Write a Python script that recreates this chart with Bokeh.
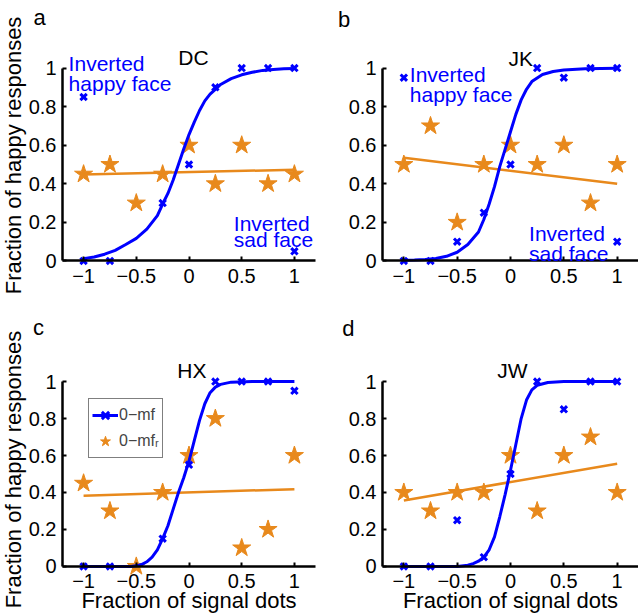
import math
from bokeh.plotting import figure
from bokeh.models import Range1d, Label, Legend, LegendItem, FixedTicker, CustomJSTickFormatter
from bokeh.layouts import row, column
from bokeh.embed import file_html
from bokeh.resources import INLINE

NAN = float("nan")

# ---------------- data ----------------
levels = [-1, -0.75, -0.5, -0.25, 0, 0.25, 0.5, 0.75, 1]
x_ticks = [-1, -0.5, 0, 0.5, 1]
x_tick_labels = ["\u22121", "\u22120.5", "0", "0.5", "1"]
y_ticks = [0, 0.2, 0.4, 0.6, 0.8, 1]
y_tick_labels = ["0", "0.2", "0.4", "0.6", "0.8", "1"]

subjects = ["DC", "JK", "HX", "JW"]
panel_letters = ["a", "b", "c", "d"]

# 0-mf (blue crosses)
dc_mf = [0, 0, NAN, 0.3, 0.5, 0.9, 1, 1, 1]
jk_mf = [0, 0, 0.1, 0.25, 0.5, 1, 0.95, 1, 1]
hx_mf = [0, 0, NAN, 0.15, 0.55, 1, 1, 1, 0.95]
jw_mf = [0, 0, 0.25, 0.05, 0.5, 1, 0.85, 1, 1]

# 0-mf_r (orange stars)
dc_mfr = [0.45, 0.5, 0.3, 0.45, 0.6, 0.4, 0.6, 0.4, 0.45]
jk_mfr = [0.5, 0.7, 0.2, 0.5, 0.6, 0.5, 0.6, 0.3, 0.5]
hx_mfr = [0.45, 0.3, 0, 0.4, 0.6, 0.8, 0.1, 0.2, 0.6]
jw_mfr = [0.4, 0.3, 0.4, 0.4, 0.6, 0.3, 0.6, 0.7, 0.4]

# inverted-face points
dc_inv_x = [-1, 1]
dc_inv_y = [0.85, 0.05]
jk_inv_x = [-1, 1]
jk_inv_y = [0.95, 0.1]

# psychometric fit curves
dc_fit_x = [-1, -0.9, -0.8, -0.7, -0.6, -0.5, -0.4, -0.3, -0.25, -0.2, -0.15, -0.1, -0.05, 0,
            0.05, 0.1, 0.15, 0.2, 0.25, 0.3, 0.4, 0.5, 0.6, 0.7, 0.8, 0.9, 1]
dc_fit_y = [0.012, 0.02, 0.035, 0.055, 0.085, 0.117, 0.165, 0.235, 0.295, 0.35, 0.42, 0.5, 0.58, 0.655,
            0.72, 0.78, 0.83, 0.865, 0.89, 0.915, 0.945, 0.965, 0.978, 0.988, 0.993, 0.996, 0.998]
jk_fit_x = [-1, -0.9, -0.8, -0.7, -0.6, -0.5, -0.4, -0.3, -0.25, -0.2, -0.15, -0.1, -0.05, 0,
            0.05, 0.1, 0.15, 0.2, 0.3, 0.4, 0.5, 0.7, 1]
jk_fit_y = [0.003, 0.005, 0.008, 0.013, 0.024, 0.045, 0.085, 0.15, 0.215, 0.295, 0.385, 0.49, 0.58, 0.67,
            0.76, 0.835, 0.89, 0.93, 0.967, 0.982, 0.99, 0.997, 0.999]
hx_fit_x = [-1, -0.75, -0.55, -0.5, -0.45, -0.4, -0.35, -0.3, -0.25, -0.2, -0.15, -0.1, -0.05, 0,
            0.05, 0.1, 0.15, 0.2, 0.25, 0.3, 0.4, 0.6, 1]
hx_fit_y = [0, 0, 0, 0.003, 0.01, 0.025, 0.05, 0.09, 0.15, 0.22, 0.31, 0.4, 0.48, 0.57,
            0.68, 0.79, 0.88, 0.94, 0.97, 0.985, 0.997, 1, 1]
jw_fit_x = [-1, -0.5, -0.4, -0.35, -0.3, -0.25, -0.2, -0.15, -0.1, -0.05, 0, 0.05, 0.1, 0.15,
            0.2, 0.25, 0.35, 0.5, 1]
jw_fit_y = [0, 0, 0.006, 0.015, 0.028, 0.05, 0.09, 0.16, 0.27, 0.39, 0.52, 0.66, 0.8, 0.9,
            0.955, 0.98, 0.995, 1, 1]

# linear fits of 0-mf_r (end points)
line_x = [-1, 1]
dc_line_y = [0.448, 0.473]
jk_line_y = [0.535, 0.40]
hx_line_y = [0.382, 0.418]
jw_line_y = [0.357, 0.556]

legend_labels = ["0\u2212mf", "0\u2212mf\u1d63"]
x_title = "Fraction of signal dots"
y_title = "Fraction of happy responses"

# ---------------- style ----------------
BLUE = "#0000ff"
ORANGE = "#e8891c"
FONT = "Liberation Sans"
XLO, XHI = -1.2, 1.2       # axis extent
YLO, YHI = -0.06, 1.06     # reference frame for pixel layout


def tick_fmt(tick_values, tick_texts):
    return CustomJSTickFormatter(
        args=dict(tv=tick_values, tt=tick_texts),
        code="""
        for (let i = 0; i < tv.length; i++) {
            if (Math.abs(tv[i] - tick) < 1e-6) return tt[i];
        }
        return "";
        """,
    )


def make_panel(width, height, ax_left, ax_right, fr_top, fr_h,
               mf, mfr, fit_x, fit_y, line_y, inv_x=None, inv_y=None, xlabel=False):
    # pixel layout -> ranges covering the whole canvas (nothing gets clipped)
    ux = (width - ax_left - ax_right) / (XHI - XLO)
    uy = fr_h / (YHI - YLO)
    xr = Range1d(XLO - ax_left / ux, XHI + ax_right / ux)
    yr = Range1d(YHI - (height - fr_top) / uy, YHI + fr_top / uy)
    p = figure(width=width, height=height, x_range=xr, y_range=yr,
               output_backend="svg", toolbar_location=None, title=None,
               min_border=0, min_border_left=0, min_border_right=0,
               min_border_top=0, min_border_bottom=0)
    p.outline_line_color = None
    p.xgrid.visible = False
    p.ygrid.visible = False
    p.background_fill_color = "white"
    p.border_fill_color = "white"

    for ax in (p.xaxis[0], p.yaxis[0]):
        ax.axis_line_width = 2.5
        ax.axis_line_color = "black"
        ax.major_tick_in = 4
        ax.major_tick_out = 0
        ax.major_tick_line_width = 2
        ax.major_tick_line_color = "black"
        ax.minor_tick_line_color = None
        ax.major_label_text_font = FONT
        ax.major_label_text_font_size = "20px"
        ax.major_label_text_color = "black"

    xa = p.xaxis[0]
    xa.ticker = FixedTicker(ticks=x_ticks)
    xa.formatter = tick_fmt(x_ticks, x_tick_labels)
    xa.fixed_location = 0
    xa.bounds = (XLO, XHI)
    xa.major_label_standoff = 8
    if xlabel:
        xa.axis_label = x_title
        xa.axis_label_text_font = FONT
        xa.axis_label_text_font_size = "22px"
        xa.axis_label_text_font_style = "normal"
        xa.axis_label_text_color = "black"
        xa.axis_label_standoff = -4

    ya = p.yaxis[0]
    ya.ticker = FixedTicker(ticks=y_ticks)
    ya.formatter = tick_fmt(y_ticks, y_tick_labels)
    ya.fixed_location = XLO
    ya.bounds = (0, 1)
    ya.major_label_standoff = 6

    stars = p.scatter(levels, mfr, marker="star", size=19, fill_color=ORANGE,
                      line_color=ORANGE, line_width=1)
    p.line(line_x, line_y, line_color=ORANGE, line_width=2.5)
    crosses = p.scatter(levels, mf, marker="x", size=9, line_color=BLUE, line_width=3)
    if inv_x is not None:
        p.scatter(inv_x, inv_y, marker="x", size=9, line_color=BLUE, line_width=3)
    curve = p.line(fit_x, fit_y, line_color=BLUE, line_width=3)
    return p, curve, crosses, stars


def add_text(p, x, y, text, size="21px", color="black", align="left", angle=0.0,
             baseline="alphabetic"):
    p.add_layout(Label(x=x, y=y, text=text, text_font=FONT, text_font_size=size,
                       text_color=color, text_align=align, text_baseline=baseline,
                       angle=angle))


# panel a
pa, _, _, _ = make_panel(319, 300, 62, 4, 56, 216, dc_mf, dc_mfr, dc_fit_x, dc_fit_y,
                         dc_line_y, dc_inv_x, dc_inv_y)
add_text(pa, -1.474, 1.262, panel_letters[0], size="22px")
add_text(pa, 0.043, 1.057, subjects[0], align="center")
add_text(pa, -1.142, 1.026, "Inverted", color=BLUE)
add_text(pa, -1.142, 0.921, "happy face", color=BLUE)
add_text(pa, 0.425, 0.195, "Inverted", color=BLUE)
add_text(pa, 0.425, 0.109, "sad face", color=BLUE)
add_text(pa, -1.786, 0.547, y_title, size="22px", align="center", angle=math.pi / 2,
         baseline="top")

# panel b
pb, _, _, _ = make_panel(319, 300, 63, 0, 56, 216, jk_mf, jk_mfr, jk_fit_x, jk_fit_y,
                         jk_line_y, jk_inv_x, jk_inv_y)
add_text(pb, -1.618, 1.25, panel_letters[1], size="22px")
add_text(pb, 0.096, 1.05, subjects[1], align="center")
add_text(pb, -0.944, 0.968, "Inverted", color=BLUE)
add_text(pb, -0.944, 0.861, "happy face", color=BLUE)
add_text(pb, 0.174, 0.143, "Inverted", color=BLUE)
add_text(pb, 0.174, 0.04, "sad face", color=BLUE)

# panel c
pc, curve_c, crosses_c, stars_c = make_panel(319, 313, 62, 4, 70, 207, hx_mf, hx_mfr,
                                             hx_fit_x, hx_fit_y, hx_line_y, xlabel=True)
add_text(pc, -1.48, 1.292, panel_letters[2], size="22px")
add_text(pc, 0.028, 1.06, subjects[2], align="center")
add_text(pc, -1.786, 0.524, y_title, size="22px", align="center", angle=math.pi / 2,
         baseline="top")
legend = Legend(items=[LegendItem(label=legend_labels[0], renderers=[curve_c, crosses_c]),
                       LegendItem(label=legend_labels[1], renderers=[stars_c])],
                location=(88, 155), orientation="vertical",
                label_text_font=FONT, label_text_font_size="16px",
                label_standoff=1, glyph_width=26, glyph_height=26,
                label_height=20, padding=3, spacing=-4, margin=0,
                border_line_color="black", border_line_width=1,
                background_fill_color="white", background_fill_alpha=1.0)
pc.add_layout(legend)

# panel d
pd_, _, _, _ = make_panel(319, 313, 63, 0, 70, 207, jw_mf, jw_mfr, jw_fit_x, jw_fit_y,
                          jw_line_y, xlabel=True)
add_text(pd_, -1.578, 1.286, panel_letters[3], size="22px")
add_text(pd_, 0.018, 1.06, subjects[3], align="center")

layout = column(row(pa, pb), row(pc, pd_))
open("out.html", "w").write(file_html(layout, INLINE))
